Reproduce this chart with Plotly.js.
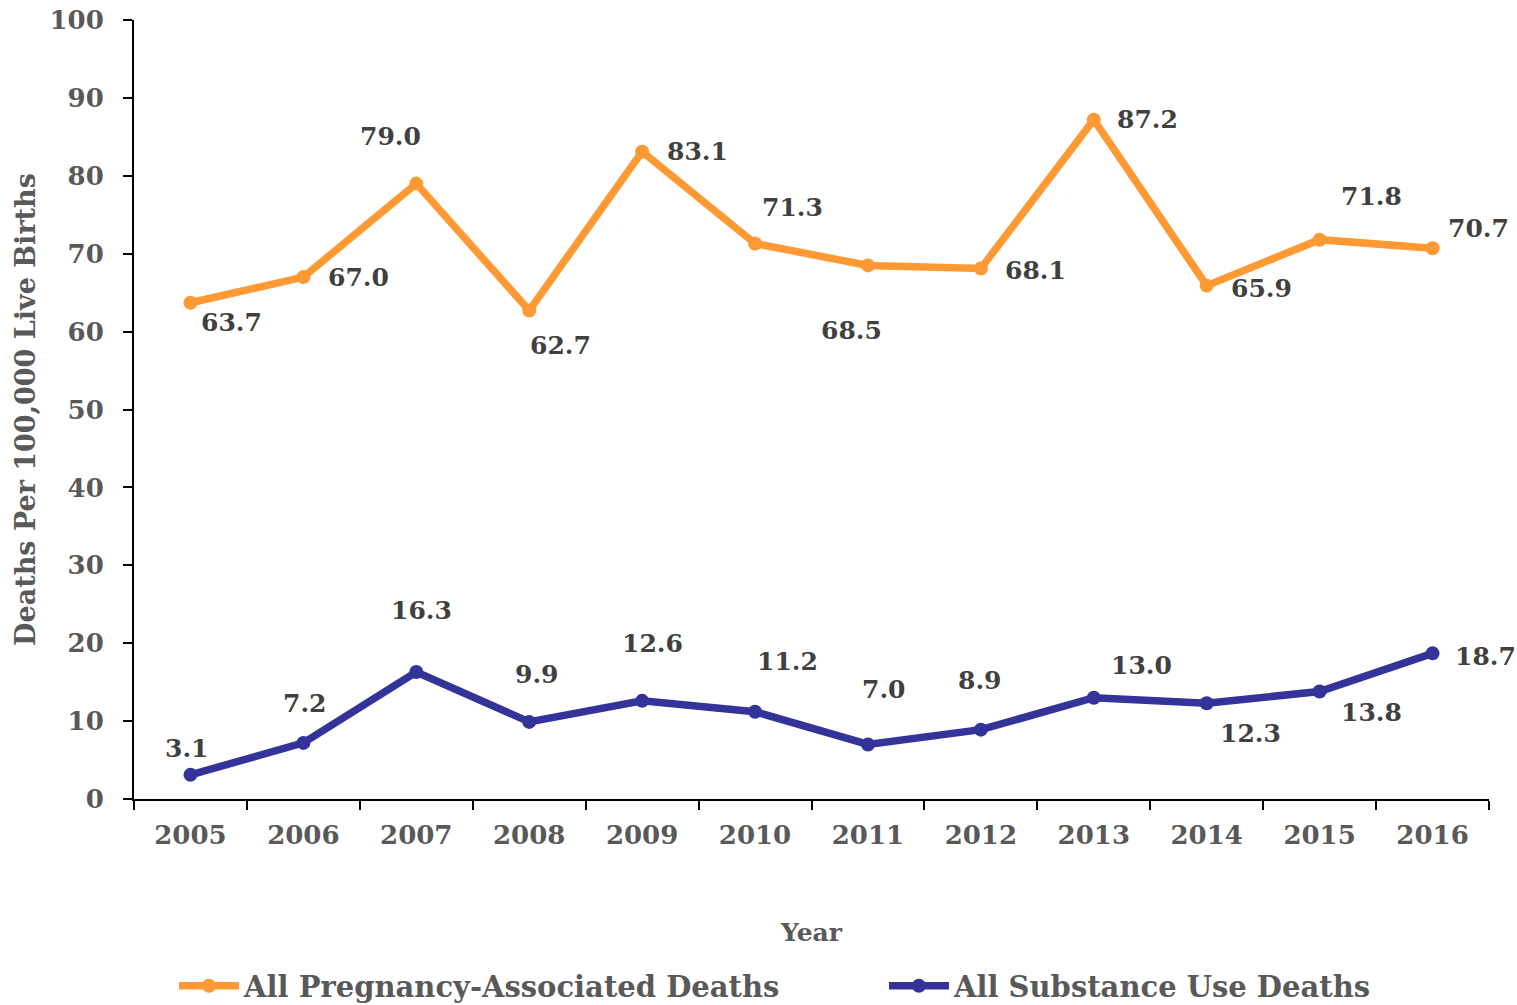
<!DOCTYPE html>
<html>
<head>
<meta charset="utf-8">
<script src="https://cdn.plot.ly/plotly-3.0.1.min.js"></script>
<style>html,body{margin:0;padding:0;background:#fff;}#chart{width:1517px;height:1005px;}</style>
</head>
<body>
<div id="chart"></div>
<script>
const years = ['2005','2006','2007','2008','2009','2010','2011','2012','2013','2014','2015','2016'];
const pregnancyDeaths = [63.7, 67.0, 79.0, 62.7, 83.1, 71.3, 68.5, 68.1, 87.2, 65.9, 71.8, 70.7];
const substanceDeaths = [3.1, 7.2, 16.3, 9.9, 12.6, 11.2, 7.0, 8.9, 13.0, 12.3, 13.8, 18.7];
const yTicks = [0, 10, 20, 30, 40, 50, 60, 70, 80, 90, 100];

// label offsets in pixels (style, not data)
const pregOffsets = [[41,20],[55,0],[-26,-47],[31,35],[55,0],[37,-36],[-16,65],[55,2],[54,0],[55,3],[52,-43],[46,-20]];
const subOffsets = [[-3,-26],[2,-39],[5,-62],[8,-47],[10,-57],[32,-50],[16,-55],[-1,-49],[48,-32],[44,30],[52,21],[53,3]];

const FONT = '"DejaVu Serif", Georgia, serif';
const ORANGE = '#FF9933';
const BLUE = '#333399';

function labels(vals, offs) {
  return vals.map((v, i) => ({
    x: i, y: v, xref: 'x', yref: 'y',
    text: v.toFixed(1), showarrow: true, arrowcolor: 'rgba(0,0,0,0)', arrowwidth: 0.1,
    ax: offs[i][0], ay: offs[i][1], xanchor: 'center', yanchor: 'middle',
    font: {family: FONT, size: 25, color: '#404040', weight: 'bold'}
  }));
}

const traces = [
  {x: years, y: pregnancyDeaths, type: 'scatter', mode: 'lines+markers',
   name: 'All Pregnancy-Associated Deaths', legend: 'legend',
   line: {color: ORANGE, width: 7.5}, marker: {color: ORANGE, size: 14}},
  {x: years, y: substanceDeaths, type: 'scatter', mode: 'lines+markers',
   name: 'All Substance Use Deaths', legend: 'legend2',
   line: {color: BLUE, width: 7.5}, marker: {color: BLUE, size: 14}}
];

const legendFont = {family: FONT, size: 29, color: '#595959', weight: 'bold'};

const layout = {
  width: 1517, height: 1005,
  margin: {l: 134, r: 28, t: 20, b: 206},
  paper_bgcolor: '#fff', plot_bgcolor: '#fff',
  showlegend: true,
  legend: {orientation: 'h', xref: 'container', yref: 'container', x: 0.1147, xanchor: 'left', y: 0.019, yanchor: 'middle',
    font: legendFont, itemwidth: 60},
  legend2: {orientation: 'h', xref: 'container', yref: 'container', x: 0.5827, xanchor: 'left', y: 0.019, yanchor: 'middle',
    font: legendFont, itemwidth: 60},
  xaxis: {type: 'category', range: [-0.5, 11.5], tickson: 'boundaries',
    showline: true, linecolor: '#000', linewidth: 2, showgrid: false, zeroline: false,
    ticks: 'outside', ticklen: 9, tickwidth: 2, tickcolor: '#000', ticklabelstandoff: 12,
    tickfont: {family: FONT, size: 26, color: '#595959', weight: 'bold'},
    title: {text: 'Year', standoff: 74, font: {family: FONT, size: 25, color: '#595959', weight: 'bold'}}},
  yaxis: {range: [0, 100], tickvals: yTicks, ticktext: yTicks.map(String),
    showline: true, linecolor: '#000', linewidth: 2, showgrid: false, zeroline: false,
    ticks: 'outside', ticklen: 9, tickwidth: 2, tickcolor: '#000', ticklabelstandoff: 14,
    tickfont: {family: FONT, size: 26, color: '#595959', weight: 'bold'},
    title: {text: 'Deaths Per 100,000 Live Births', standoff: 6, font: {family: FONT, size: 27, color: '#595959', weight: 'bold'}}},
  annotations: labels(pregnancyDeaths, pregOffsets).concat(labels(substanceDeaths, subOffsets))
};

Plotly.newPlot('chart', traces, layout, {displayModeBar: false, staticPlot: true});
</script>
</body>
</html>
